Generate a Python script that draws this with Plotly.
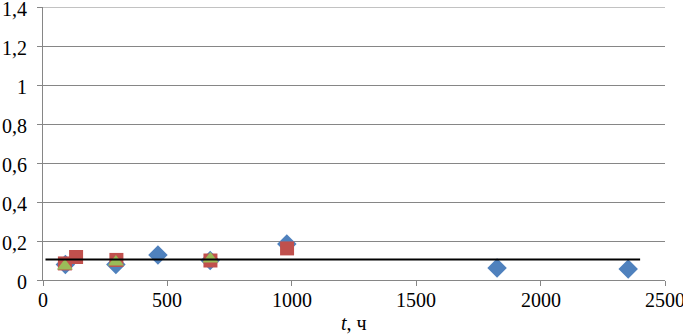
import plotly.graph_objects as go

# Data
blue_x = [90, 293, 462, 672, 980, 1825, 2352]
blue_y = [0.08, 0.08, 0.128, 0.1, 0.185, 0.062, 0.056]
red_x = [88, 133, 295, 673, 981]
red_y = [0.085, 0.118, 0.103, 0.1, 0.162]
green_x = [88, 293, 673]
green_y = [0.072, 0.092, 0.108]
line_x = [10, 2400]
line_y = [0.105, 0.105]

x_ticks = [0, 500, 1000, 1500, 2000, 2500]
x_labels = ["0", "500", "1000", "1500", "2000", "2500"]
y_ticks = [0, 0.2, 0.4, 0.6, 0.8, 1.0, 1.2, 1.4]
y_labels = ["0", "0,2", "0,4", "0,6", "0,8", "1", "1,2", "1,4"]
x_title = "<i>t</i>, ч"

FONT = "Liberation Serif"
FS = 20
GRID = "#868686"
TXT = dict(family=FONT, size=FS, color="black")

fig = go.Figure()
fig.add_trace(go.Scatter(x=blue_x, y=blue_y, mode="markers",
                         marker=dict(symbol="diamond", size=15, color="#4F81BD")))
fig.add_trace(go.Scatter(x=red_x, y=red_y, mode="markers",
                         marker=dict(symbol="square", size=14, color="#C0504D")))
fig.add_trace(go.Scatter(x=green_x, y=green_y, mode="markers",
                         marker=dict(symbol="triangle-up", size=14, color="#9BBB59")))
fig.add_trace(go.Scatter(x=line_x, y=line_y, mode="lines",
                         line=dict(color="black", width=2)))

fig.update_layout(
    width=683, height=335,
    margin=dict(l=43, r=18, t=7, b=55),
    paper_bgcolor="white", plot_bgcolor="white",
    showlegend=False,
    font=TXT,
)
fig.update_xaxes(
    range=[0, 2500], tickvals=x_ticks, showticklabels=False,
    showgrid=False, zeroline=False, automargin=False,
    showline=True, linecolor=GRID, linewidth=1,
    ticks="outside", ticklen=5, tickcolor=GRID,
)
fig.update_yaxes(
    range=[0, 1.4], tickvals=y_ticks, showticklabels=False,
    showgrid=True, gridcolor=GRID, gridwidth=1, zeroline=False, automargin=False,
    showline=True, linecolor=GRID, linewidth=1,
    ticks="outside", ticklen=5, tickcolor=GRID,
)
# top gridline (plotly hides a gridline sitting on the plot edge)
fig.add_shape(type="line", xref="paper", x0=0, x1=1, yref="y",
              y0=y_ticks[-1], y1=y_ticks[-1], line=dict(color=GRID, width=1))

# tick labels as text annotations (serif font)
for v, lab in zip(y_ticks, y_labels):
    fig.add_annotation(x=0, xref="paper", y=v, yref="y", text=lab,
                       showarrow=False, xanchor="right", yanchor="middle",
                       xshift=-14, yshift=-2, font=TXT)
for v, lab in zip(x_ticks, x_labels):
    fig.add_annotation(x=v, xref="x", y=0, yref="paper", text=lab,
                       showarrow=False, xanchor="center", yanchor="top",
                       yshift=-7, font=TXT)
fig.add_annotation(x=0.5, xref="paper", y=0, yref="paper", text=x_title,
                   showarrow=False, xanchor="center", yanchor="middle",
                   yshift=-43, font=TXT)

fig.write_html("out.html", config={"displayModeBar": False},
               post_script="document.body.style.margin='0px';")
